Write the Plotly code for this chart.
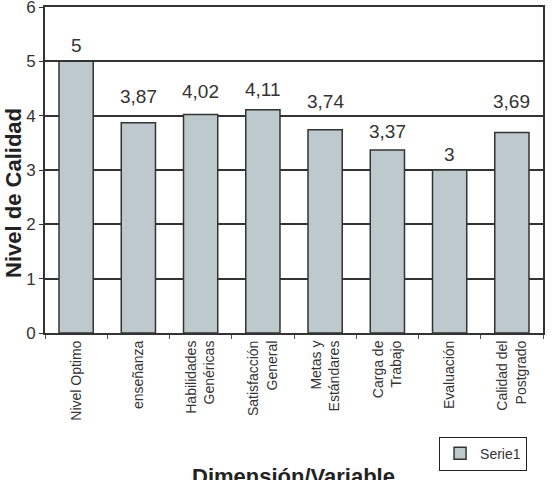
import plotly.graph_objects as go

categories = ["Nivel Optimo", "enseñanza", "Habilidades<br>Genéricas", "Satisfacción<br>General",
              "Metas y<br>Estándares", "Carga de<br>Trabajo", "Evaluación", "Calidad del<br>Postgrado"]
values = [5, 3.87, 4.02, 4.11, 3.74, 3.37, 3, 3.69]
labels = ["5", "3,87", "4,02", "4,11", "3,74", "3,37", "3", "3,69"]
y_ticks = [0, 1, 2, 3, 4, 5, 6]

# style: vertical offset (px) of each data label above its bar top
label_offsets = [16, 26, 23, 20, 28, 18, 16, 31]

FONT = "Liberation Sans, Arial, sans-serif"

fig = go.Figure()
fig.add_trace(go.Bar(
    x=categories, y=values, name="Serie1",
    marker=dict(color="#bdc9cd", line=dict(color="#333333", width=1.5)),
    width=0.55,
))
for c, v, t, off in zip(categories, values, labels, label_offsets):
    fig.add_annotation(x=c, y=v, text=t, showarrow=False, yanchor="middle",
                       yshift=off, font=dict(size=19, color="#333333", family=FONT))

fig.update_layout(
    width=557, height=480,
    margin=dict(l=45, r=14, t=7, b=147, autoexpand=False),
    plot_bgcolor="white", paper_bgcolor="white",
    font=dict(family=FONT, color="#333333"),
    showlegend=True,
    legend=dict(x=0.968, xanchor="right", y=-0.318, yanchor="top",
                bordercolor="#222222", borderwidth=1, bgcolor="white",
                itemwidth=30, tracegroupgap=0,
                font=dict(size=14, color="#333333")),
)
fig.update_xaxes(
    tickangle=-90, tickfont=dict(size=14, color="#333333"), automargin=False,
    showline=True, linecolor="#333333", linewidth=2, mirror=True,
    ticks="outside", tickson="boundaries", ticklen=4, tickcolor="#555555",
)
fig.update_yaxes(
    range=[0, 6], tickvals=y_ticks, tickfont=dict(size=17, color="#333333"),
    ticklabeloverflow="allow", automargin=False,
    showgrid=True, gridcolor="#333333", gridwidth=1.5,
    showline=True, linecolor="#333333", linewidth=2, mirror=True,
    ticks="outside", ticklen=4, tickcolor="#333333",
)
fig.add_annotation(text="<b>Nivel de Calidad</b>", xref="paper", yref="paper",
                   x=-0.062, y=0.43, xanchor="center", yanchor="middle", textangle=-90,
                   showarrow=False, font=dict(size=22, color="#222222", family=FONT))
fig.add_annotation(text="<b>Dimensión/Variable</b>", xref="paper", yref="paper",
                   x=0.498, y=-0.44, xanchor="center", yanchor="middle",
                   showarrow=False, font=dict(size=22, color="#222222", family=FONT))

fig.write_html("out.html")
